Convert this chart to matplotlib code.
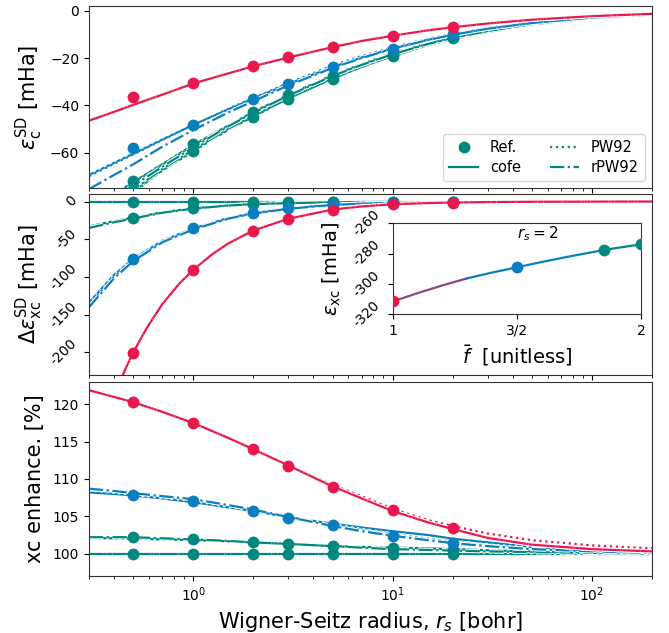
import numpy as np
import matplotlib
matplotlib.use("Agg")
import matplotlib.pyplot as plt
import matplotlib.patheffects as pe
from matplotlib.lines import Line2D

# ---------------- data ----------------
RS_REF = [0.5, 1, 2, 3, 5, 10, 20]

# top panel: eps_c^SD [mHa], reference points
EC_REF_TEAL2 = [-76.0, -59.3, -44.8, -37.3, -28.9, -19.0, -11.7]
EC_REF_TEAL1 = [-72.0, -56.5, -42.8, -35.7, -27.5, -18.3, -11.2]
EC_REF_BLUE = [-58.2, -48.5, -37.2, -30.8, -23.6, -16.1, -9.9]
EC_REF_RED = [-36.5, -30.5, -23.5, -19.7, -15.4, -10.6, -6.9]

RS_CURVE = [0.3, 0.4, 0.5, 0.7, 1, 1.5, 2, 3, 5, 7, 10, 15, 20, 30, 50, 100, 200]

EC_COFE_TEAL2 = [-90.0, -82.0, -76.5, -67.5, -59.3, -50.3, -44.7, -37.2, -28.7, -23.8, -19.1, -14.6, -12.0, -9.0, -6.0, -3.4, -1.8]
EC_COFE_TEAL1 = [-85.0, -77.8, -72.5, -64.9, -56.8, -48.5, -42.8, -35.6, -27.4, -22.8, -18.3, -14.0, -11.5, -8.6, -5.7, -3.2, -1.7]
EC_COFE_BLUE = [-69.5, -64.4, -60.5, -54.5, -48.3, -41.7, -37.2, -31.0, -23.8, -19.8, -16.0, -12.3, -10.2, -7.6, -5.2, -2.9, -1.6]
EC_COFE_RED = [-46.5, -42.8, -39.8, -35.5, -30.8, -26.5, -23.5, -19.8, -15.4, -12.8, -10.6, -8.3, -7.0, -5.4, -3.8, -2.3, -1.3]

EC_PW_TEAL2 = [-90.5, -82.4, -76.8, -67.7, -59.5, -50.4, -44.8, -37.2, -28.6, -23.6, -18.9, -14.4, -11.8, -8.8, -5.9, -3.3, -1.8]
EC_PW_TEAL1 = [-85.5, -78.2, -72.8, -65.1, -57.0, -48.6, -42.8, -35.5, -27.2, -22.5, -18.0, -13.7, -11.2, -8.4, -5.6, -3.1, -1.7]
EC_PW_BLUE = [-70.0, -64.8, -60.8, -54.7, -48.3, -41.5, -36.9, -30.6, -23.2, -19.2, -15.5, -11.9, -9.7, -7.2, -4.9, -2.7, -1.5]
EC_PW_RED = [-46.8, -43.0, -40.0, -35.6, -30.7, -26.4, -23.4, -19.7, -15.3, -12.7, -10.5, -8.2, -6.9, -5.3, -3.7, -2.2, -1.2]

EC_RPW_TEAL2 = [-89.0, -81.2, -75.8, -67.0, -58.8, -49.9, -44.5, -37.1, -28.7, -23.8, -19.1, -14.6, -12.0, -9.0, -6.0, -3.4, -1.8]
EC_RPW_TEAL1 = [-87.0, -79.5, -74.0, -66.0, -57.8, -48.9, -43.2, -35.9, -27.6, -22.9, -18.4, -14.1, -11.5, -8.6, -5.7, -3.2, -1.7]
EC_RPW_BLUE = [-75.5, -69.5, -65.0, -57.5, -50.5, -43.0, -38.3, -31.6, -24.2, -20.0, -16.1, -12.4, -10.2, -7.6, -5.2, -2.9, -1.6]
EC_RPW_RED = [-46.5, -42.8, -39.8, -35.5, -30.8, -26.5, -23.5, -19.8, -15.4, -12.8, -10.6, -8.3, -7.0, -5.4, -3.8, -2.3, -1.3]

# middle panel: Delta eps_xc^SD [mHa]
DX_REF_TEAL2 = [0, 0, 0, 0, 0, 0, 0]
DX_REF_TEAL1 = [-21.5, -8.8, -3.3, -2.0, -1.0, -0.4, -0.1]
DX_REF_BLUE = [-76.4, -35.5, -15.5, -9.0, -4.2, -1.5, -0.5]
DX_REF_RED = [-200.5, -90.5, -38.4, -23.0, -10.6, -3.6, -1.3]

DX_COFE_TEAL2 = [0, 0, 0, 0, 0, 0, 0, 0, 0, 0, 0, 0, 0, 0, 0, 0, 0]
DX_COFE_TEAL1 = [-33.0, -26.0, -21.5, -14.2, -9.0, -5.1, -3.3, -2.0, -1.0, -0.6, -0.4, -0.2, -0.1, -0.05, 0, 0, 0]
DX_COFE_BLUE = [-134.0, -97.5, -76.0, -52.0, -35.5, -21.8, -15.5, -9.0, -4.2, -2.7, -1.5, -0.8, -0.5, -0.3, -0.1, 0, 0]
DX_PW_TEAL1 = [-34.0, -26.8, -22.0, -14.5, -9.2, -5.2, -3.4, -2.0, -1.0, -0.6, -0.4, -0.2, -0.1, -0.05, 0, 0, 0]
DX_PW_BLUE = [-137.0, -99.5, -77.5, -53.0, -36.2, -22.2, -15.8, -9.2, -4.3, -2.8, -1.5, -0.8, -0.5, -0.3, -0.1, 0, 0]
DX_RPW_TEAL1 = [-35.0, -27.5, -22.5, -14.8, -9.4, -5.3, -3.5, -2.1, -1.0, -0.6, -0.4, -0.2, -0.1, -0.05, 0, 0, 0]
DX_RPW_BLUE = [-140.0, -102.0, -79.0, -54.0, -37.0, -22.6, -16.0, -9.5, -4.5, -2.9, -1.6, -0.8, -0.5, -0.3, -0.1, 0, 0]

RS_CURVE_RED = [0.44, 0.47, 0.5, 0.55, 0.6, 0.7, 0.85, 1, 1.25, 1.5, 2, 3, 5, 7, 10, 15, 20, 30, 50, 100, 200]
DX_COFE_RED = [-232.0, -215.0, -200.5, -180.0, -163.0, -136.0, -109.0, -90.5, -69.5, -55.5, -38.5, -22.8, -10.6, -6.5, -3.6, -2.0, -1.3, -0.7, -0.3, -0.1, 0]

# bottom panel: xc enhancement [%]
EN_REF_TEAL2 = [100, 100, 100, 100, 100, 100, 100]
EN_REF_TEAL1 = [102.2, 101.9, 101.5, 101.3, 101.0, 100.7, 100.5]
EN_REF_BLUE = [107.8, 107.0, 105.7, 104.8, 103.8, 102.4, 101.4]
EN_REF_RED = [120.3, 117.5, 114.0, 111.8, 108.9, 105.8, 103.4]

EN_COFE_TEAL2 = [100] * 17
EN_COFE_TEAL1 = [102.1, 102.05, 102.0, 101.9, 101.8, 101.65, 101.5, 101.3, 101.0, 100.9, 100.8, 100.7, 100.6, 100.45, 100.3, 100.15, 100.1]
EN_COFE_BLUE = [108.2, 108.0, 107.8, 107.4, 106.9, 106.2, 105.7, 104.9, 104.0, 103.5, 103.0, 102.5, 102.0, 101.5, 100.9, 100.4, 100.2]
EN_COFE_RED = [121.9, 121.0, 120.3, 119.0, 117.5, 115.5, 114.0, 111.8, 109.0, 107.4, 105.7, 104.2, 103.3, 102.1, 101.2, 100.6, 100.3]
EN_PW_TEAL1 = [102.2, 102.15, 102.1, 102.0, 101.9, 101.7, 101.5, 101.3, 101.0, 100.8, 100.65, 100.5, 100.4, 100.3, 100.2, 100.1, 100.05]
EN_PW_BLUE = [108.6, 108.3, 108.0, 107.6, 107.2, 106.4, 105.8, 104.9, 103.8, 103.2, 102.6, 102.0, 101.6, 101.1, 100.7, 100.35, 100.15]
EN_PW_RED = [121.9, 121.0, 120.3, 119.0, 117.5, 115.5, 114.0, 111.9, 109.2, 107.7, 106.0, 104.5, 103.7, 102.7, 101.8, 101.1, 100.7]
EN_RPW_TEAL1 = [102.2, 102.2, 102.2, 102.05, 101.9, 101.7, 101.5, 101.3, 101.0, 100.8, 100.6, 100.5, 100.4, 100.3, 100.2, 100.1, 100.0]
EN_RPW_BLUE = [108.7, 108.4, 108.1, 107.7, 107.3, 106.5, 105.9, 104.9, 103.7, 103.0, 102.4, 101.8, 101.4, 101.0, 100.6, 100.3, 100.1]
EN_RPW_RED = [121.9, 121.0, 120.3, 119.0, 117.5, 115.5, 114.0, 111.8, 109.0, 107.4, 105.7, 104.2, 103.3, 102.1, 101.2, 100.6, 100.3]

# inset: eps_xc vs f at r_s = 2
F_CURVE = [1.0, 1.1, 1.2, 1.3, 1.4, 1.5, 1.6, 1.7, 1.8, 1.85, 1.9, 2.0]
EXC_CURVE = [-311.7, -306.2, -301.1, -296.4, -292.6, -289.1, -285.6, -282.3, -279.2, -277.7, -276.4, -273.9]
F_REF = [1.0, 1.5, 1.85, 2.0]
EXC_REF = [-311.7, -289.1, -277.7, -273.9]

RED = "#E8174C"
BLUE = "#0A7FC0"
TEAL = "#00877E"
PURPLE = "#8C4684"

# ---------------- figure ----------------
fig = plt.figure(figsize=(6.69, 6.33), dpi=100)
L, R = 89 / 669, 652 / 669
W = R - L
def fy(top, bot):
    return [L, 1 - bot / 633, W, (bot - top) / 633]

ax1 = fig.add_axes(fy(6, 188))
ax2 = fig.add_axes(fy(194, 375), sharex=ax1)
ax3 = fig.add_axes(fy(382, 576), sharex=ax1)

stroke = [pe.withStroke(linewidth=3.0, foreground="white")]
LW = 1.6
MS = 7.5

def draw(ax, ref, curves, color):
    for xs, ys, ls in curves:
        ax.plot(xs, ys, ls, color=color, lw=LW, path_effects=stroke)
    ax.plot(RS_REF, ref, "o", color=color, ms=MS, zorder=5)

groups1 = [
    (EC_REF_TEAL2, [(RS_CURVE, EC_COFE_TEAL2, "-"), (RS_CURVE, EC_PW_TEAL2, ":"), (RS_CURVE, EC_RPW_TEAL2, "-.")], TEAL),
    (EC_REF_TEAL1, [(RS_CURVE, EC_COFE_TEAL1, "-"), (RS_CURVE, EC_PW_TEAL1, ":"), (RS_CURVE, EC_RPW_TEAL1, "-.")], TEAL),
    (EC_REF_BLUE, [(RS_CURVE, EC_COFE_BLUE, "-"), (RS_CURVE, EC_PW_BLUE, ":"), (RS_CURVE, EC_RPW_BLUE, "-.")], BLUE),
    (EC_REF_RED, [(RS_CURVE, EC_COFE_RED, "-"), (RS_CURVE, EC_PW_RED, ":"), (RS_CURVE, EC_RPW_RED, "-.")], RED),
]
for ref, curves, c in groups1:
    draw(ax1, ref, curves, c)

groups2 = [
    (DX_REF_TEAL2, [(RS_CURVE, DX_COFE_TEAL2, "-"), (RS_CURVE, DX_COFE_TEAL2, ":"), (RS_CURVE, DX_COFE_TEAL2, "-.")], TEAL),
    (DX_REF_TEAL1, [(RS_CURVE, DX_COFE_TEAL1, "-"), (RS_CURVE, DX_PW_TEAL1, ":"), (RS_CURVE, DX_RPW_TEAL1, "-.")], TEAL),
    (DX_REF_BLUE, [(RS_CURVE, DX_COFE_BLUE, "-"), (RS_CURVE, DX_PW_BLUE, ":"), (RS_CURVE, DX_RPW_BLUE, "-.")], BLUE),
    (DX_REF_RED, [(RS_CURVE_RED, DX_COFE_RED, "-"), (RS_CURVE_RED, DX_COFE_RED, ":"), (RS_CURVE_RED, DX_COFE_RED, "-.")], RED),
]
for ref, curves, c in groups2:
    draw(ax2, ref, curves, c)

groups3 = [
    (EN_REF_TEAL2, [(RS_CURVE, EN_COFE_TEAL2, "-"), (RS_CURVE, EN_COFE_TEAL2, ":"), (RS_CURVE, EN_COFE_TEAL2, "-.")], TEAL),
    (EN_REF_TEAL1, [(RS_CURVE, EN_COFE_TEAL1, "-"), (RS_CURVE, EN_PW_TEAL1, ":"), (RS_CURVE, EN_RPW_TEAL1, "-.")], TEAL),
    (EN_REF_BLUE, [(RS_CURVE, EN_COFE_BLUE, "-"), (RS_CURVE, EN_PW_BLUE, ":"), (RS_CURVE, EN_RPW_BLUE, "-.")], BLUE),
    (EN_REF_RED, [(RS_CURVE, EN_COFE_RED, "-"), (RS_CURVE, EN_PW_RED, ":"), (RS_CURVE, EN_RPW_RED, "-.")], RED),
]
for ref, curves, c in groups3:
    draw(ax3, ref, curves, c)

ax1.set_xscale("log")
ax1.set_xlim(0.3, 200)
ax1.set_ylim(-75, 2)
ax2.set_ylim(-230, 10)
ax3.set_ylim(97, 123)

for ax in (ax1, ax2, ax3):
    ax.tick_params(labelsize=10)
    for s in ax.spines.values():
        s.set_color("#333333")
ax1.tick_params(labelbottom=False)
ax2.tick_params(labelbottom=False)

ax1.set_yticks([0, -20, -40, -60])
ax2.set_yticks([0, -50, -100, -150, -200])
ax2.set_yticklabels(["0", "-50", "-100", "-150", "-200"], rotation=45, va="center", ha="right")
ax3.set_yticks([100, 105, 110, 115, 120])

ax1.set_ylabel(r"$\varepsilon_{\mathrm{c}}^{\mathrm{SD}}$ [mHa]", fontsize=15)
ax2.set_ylabel(r"$\Delta\varepsilon_{\mathrm{xc}}^{\mathrm{SD}}$ [mHa]", fontsize=15)
ax3.set_ylabel("xc enhance. [%]", fontsize=15)
for ax in (ax1, ax2, ax3):
    ax.yaxis.set_label_coords(-0.079, 0.5)
ax3.set_xlabel(r"Wigner-Seitz radius, $r_s$ [bohr]", fontsize=15)

handles = [
    Line2D([], [], ls="none", marker="o", color=TEAL, ms=MS),
    Line2D([], [], ls="-", color=TEAL, lw=LW),
    Line2D([], [], ls=":", color=TEAL, lw=LW),
    Line2D([], [], ls="-.", color=TEAL, lw=LW),
]
ax1.legend(handles, ["Ref.", "cofe", "PW92", "rPW92"], ncol=2, loc="lower right",
           fontsize=10.5, labelspacing=0.35)

# inset
axi = fig.add_axes([392.7 / 669, 1 - 314 / 633, (641 - 392.7) / 669, 90.7 / 633])
n1 = F_CURVE.index(1.3)
n2 = F_CURVE.index(1.85)
axi.plot(F_CURVE[:n1 + 1], EXC_CURVE[:n1 + 1], "-", color=PURPLE, lw=LW)
axi.plot(F_CURVE[n1:n2 + 1], EXC_CURVE[n1:n2 + 1], "-", color=BLUE, lw=LW)
axi.plot(F_CURVE[n2:], EXC_CURVE[n2:], "-", color=TEAL, lw=LW)
for f, e, c in zip(F_REF, EXC_REF, [RED, BLUE, TEAL, TEAL]):
    axi.plot([f], [e], "o", color=c, ms=MS, zorder=5)
axi.set_xlim(1, 2)
axi.set_ylim(-320, -260)
axi.set_xticks([1, 1.5, 2])
axi.set_xticklabels(["1", "3/2", "2"])
axi.set_yticks([-320, -300, -280, -260])
axi.set_yticklabels(["-320", "-300", "-280", "-260"], rotation=45, va="center", ha="right")
axi.tick_params(labelsize=10)
for s in axi.spines.values():
    s.set_color("#333333")
axi.set_xlabel(r"$\bar{f}\ $ [unitless]", fontsize=14)
axi.set_ylabel(r"$\varepsilon_{\mathrm{xc}}$ [mHa]", fontsize=14)
axi.yaxis.set_label_coords(-0.2, 0.5)
axi.text(0.5, 0.985, r"$r_s = 2$", transform=axi.transAxes, ha="left", va="top", fontsize=11)

fig.savefig("out.png", dpi=100)
